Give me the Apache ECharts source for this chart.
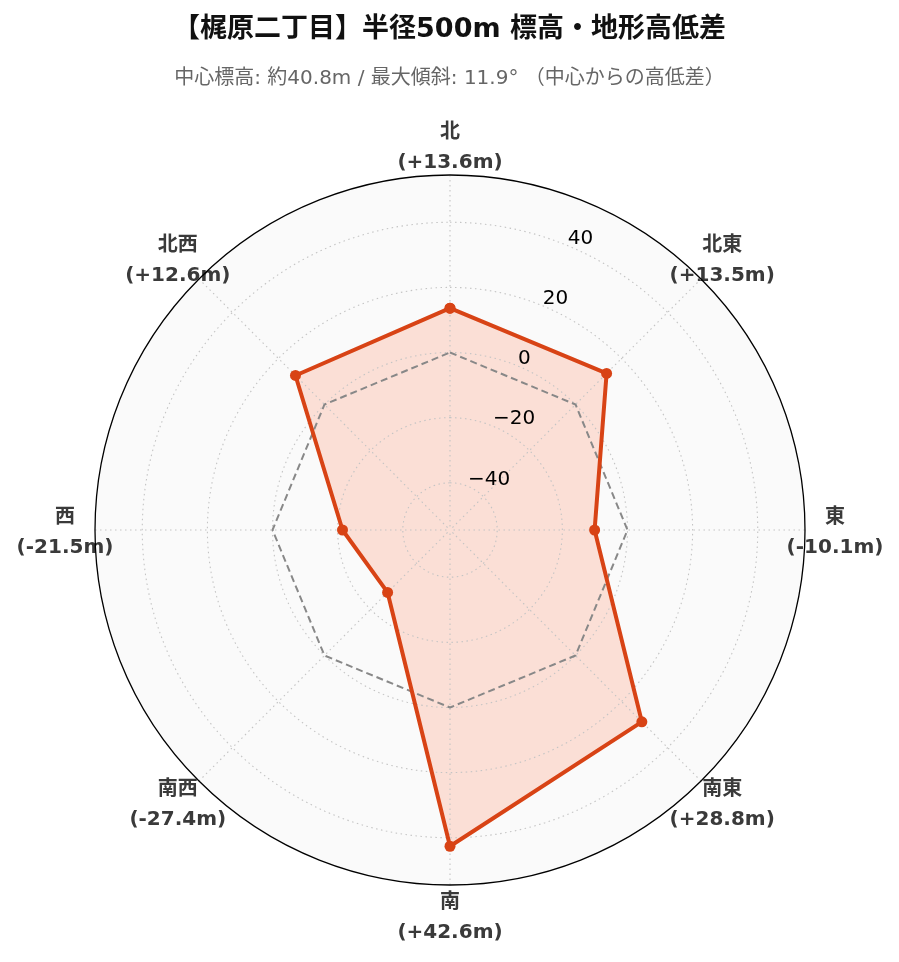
<!DOCTYPE html>
<html><head><meta charset="utf-8">
<script src="https://cdn.jsdelivr.net/npm/echarts@6/dist/echarts.min.js"></script>
<style>html,body{margin:0;padding:0;background:#fff}#c{width:899px;height:962px}</style>
</head><body><div id="c"></div>
<script>
const directions = ['北','北東','東','南東','南','南西','西','北西'];
const angles = [0,45,90,135,180,225,270,315];
const diffs = [13.6,13.5,-10.1,28.8,42.6,-27.4,-21.5,12.6];
const radialTicks = [-40,-20,0,20,40];
const rMin = -54.5, rMax = 54.5;
const tickAngle = 22.5;
const titleText = '【梶原二丁目】半径500m 標高・地形高低差';
const subText = '中心標高: 約40.8m / 最大傾斜: 11.9° （中心からの高低差）';

const FONT = "'DejaVu Sans', 'Noto Sans CJK JP', sans-serif";
const chart = echarts.init(document.getElementById('c'), null, {renderer:'canvas'});

const polygon = diffs.map((v,i)=>[v, angles[i]]);
polygon.push([diffs[0], 360]);
const zeroPoly = angles.map(a=>[0,a]); zeroPoly.push([0,360]);

const GRID = {color:'#c4c4c4', width:1.1, type:[1.5,3.5]};
function circle(v){ const d=[]; for(let a=0;a<=360;a+=2) d.push([v,a]); return d; }
const gridSeries = radialTicks.map(v=>({
  type:'line', coordinateSystem:'polar', polarIndex:1, data:circle(v), showSymbol:false, symbol:'none', silent:true, z:3,
  lineStyle:GRID
}));

function fmt(v){ return (v>=0?'+':'-') + Math.abs(v).toFixed(1) + 'm'; }
const labelData = directions.map((d,i)=>{
  const t = angles[i]*Math.PI/180;
  return { value:[rMax, angles[i]], label:{ formatter: d + '\n(' + fmt(diffs[i]) + ')', offset:[30*Math.sin(t), -30*Math.cos(t) + 3] } };
});

const tickData = radialTicks.map(v=>({value:[v, tickAngle], label:{formatter:(v<0?'\u2212':'')+Math.abs(v)}}));

const angleBase = {type:'value', min:0, max:360, interval:45, startAngle:90, clockwise:true,
  axisTick:{show:false}, axisLabel:{show:false}};
const radiusBase = {type:'value', min:rMin, max:rMax, axisLine:{show:false}, axisTick:{show:false}, axisLabel:{show:false}, splitLine:{show:false}};

chart.setOption({
  animation:false,
  backgroundColor:'#ffffff',
  title:[
    {text:titleText, left:'center', top:11, textStyle:{fontFamily:FONT, fontSize:27, fontWeight:'bold', color:'#111'}},
    {text:subText, left:'center', top:64, textStyle:{fontFamily:FONT, fontSize:20, fontWeight:'normal', color:'#666'}}
  ],
  polar:[{center:[450,530], radius:355},{center:[450,530], radius:355}],
  angleAxis:[
    Object.assign({polarIndex:0, z:0, axisLine:{show:false}, splitLine:{show:false}, splitArea:{show:true, areaStyle:{color:['#fafafa']}}}, angleBase),
    Object.assign({polarIndex:1, z:3, axisLine:{show:true, lineStyle:{color:'#000', width:1.3}}, splitLine:{show:true, lineStyle:GRID}, splitArea:{show:false}}, angleBase)
  ],
  radiusAxis:[Object.assign({polarIndex:0}, radiusBase), Object.assign({polarIndex:1}, radiusBase)],
  series:[
    {type:'line', coordinateSystem:'polar', polarIndex:1, data:polygon, showSymbol:false, symbol:'none', silent:true, z:2,
      lineStyle:{width:0}, areaStyle:{color:'rgba(255,87,34,0.17)', origin:'start', opacity:1}},
    ...gridSeries,
    {type:'line', coordinateSystem:'polar', polarIndex:1, data:zeroPoly, showSymbol:false, symbol:'none', silent:true, z:4,
      lineStyle:{color:'#888', width:2, type:[7,4]}},
    {type:'line', coordinateSystem:'polar', polarIndex:1, data:polygon, symbol:'circle', symbolSize:11, z:5,
      itemStyle:{color:'#d84315'}, lineStyle:{color:'#d84315', width:4}},
    {type:'scatter', coordinateSystem:'polar', polarIndex:1, data:tickData, symbolSize:0, silent:true, z:6,
      itemStyle:{color:'transparent', opacity:1},
      label:{show:true, opacity:1, position:[0,0], offset:[0,3], align:'left', verticalAlign:'bottom', fontFamily:FONT, fontSize:20, color:'#000', textBorderWidth:0, textBorderColor:'transparent'}},
    {type:'scatter', coordinateSystem:'polar', polarIndex:1, data:labelData, symbolSize:0, silent:true, z:2,
      itemStyle:{color:'transparent', opacity:1},
      label:{show:true, opacity:1, position:'inside', align:'center', verticalAlign:'middle', fontFamily:FONT, fontSize:20, fontWeight:'bold', color:'#3a3a3a', lineHeight:30, textBorderWidth:0, textBorderColor:'transparent'}}
  ]
});
</script></body></html>
